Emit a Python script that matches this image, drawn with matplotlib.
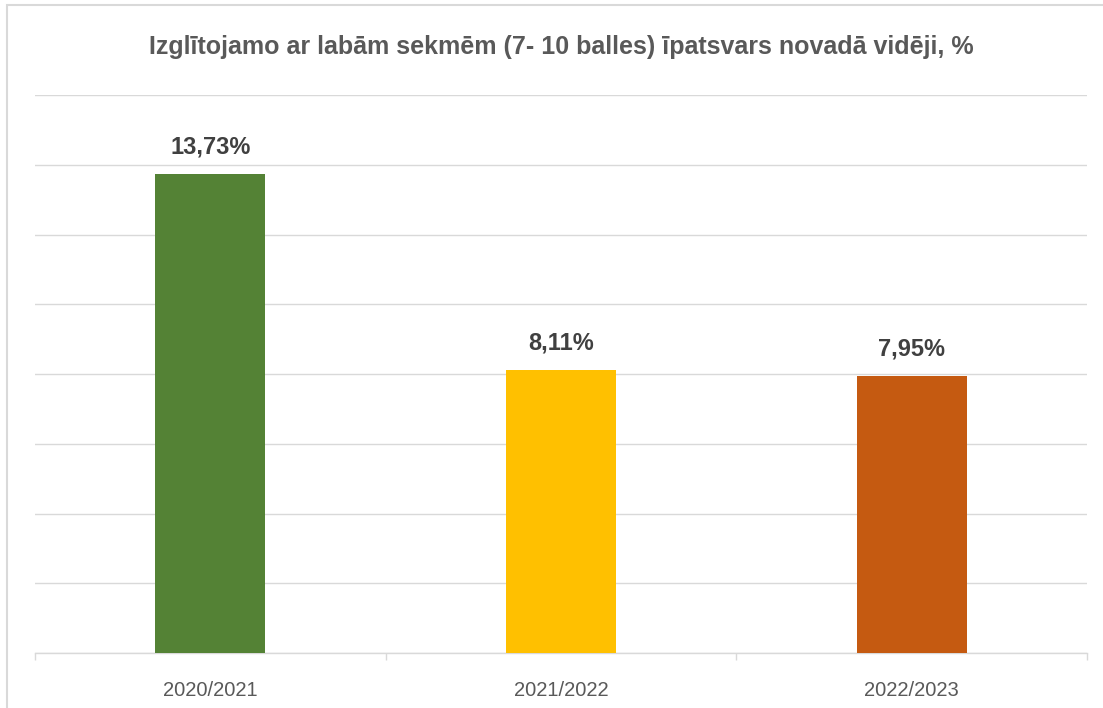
import matplotlib
import numpy as np

matplotlib.use("Agg")
import matplotlib.pyplot as plt
from matplotlib.patches import Rectangle

TITLE = "Izglītojamo ar labām sekmēm (7- 10 balles) īpatsvars novadā vidēji, %"
YEARS = ["2020/2021", "2021/2022", "2022/2023"]
SHARES = [13.73, 8.11, 7.95]
COLORS = ["#548235", "#FFC000", "#C55A11"]

plt.rcParams["font.family"] = ["Liberation Sans", "DejaVu Sans"]

fig = plt.figure(figsize=(11.03, 7.08), dpi=100)
fig.patch.set_facecolor("white")

# faint frame on left/top like the source screenshot
fig.add_artist(Rectangle((7 / 1103, -0.1), 1.2, 1.1 - 5 / 708, transform=fig.transFigure,
                         fill=False, edgecolor="#D9D9D9", linewidth=1.5))

ax = fig.add_axes([35 / 1103, 1 - 653 / 708, (1087 - 35) / 1103, (653 - 95) / 708])
x = np.arange(len(YEARS))
bars = ax.bar(x, SHARES, width=0.314, color=COLORS, zorder=3)

ax.set_xlim(-0.5, len(YEARS) - 0.5)
ax.set_ylim(0, 16)
ax.set_yticks(np.arange(0, 17, 2))
ax.yaxis.grid(True, color="#D9D9D9", linewidth=1.0, zorder=0)
ax.tick_params(axis="y", left=False, labelleft=False)

ax.set_xticks(x)
ax.set_xticklabels(YEARS, fontsize=14.5, color="#595959")
ax.set_xticks(np.arange(-0.5, len(YEARS)), minor=True)
ax.tick_params(axis="x", which="major", length=0, pad=20)
ax.tick_params(axis="x", which="minor", length=5, width=1, color="#D9D9D9")

for side in ("top", "right", "left"):
    ax.spines[side].set_visible(False)
ax.spines["bottom"].set_color("#D9D9D9")
ax.spines["bottom"].set_linewidth(1.0)

for bar, val in zip(bars, SHARES):
    ax.annotate(f"{val:.2f}%".replace(".", ","),
                (bar.get_x() + bar.get_width() / 2, val),
                xytext=(0, 11), textcoords="offset points",
                ha="center", va="bottom", fontsize=17, fontweight="bold",
                color="#404040")

fig.text(561 / 1103, 1 - 47 / 708, TITLE, ha="center", va="center",
         fontsize=18, fontweight="bold", color="#595959")

fig.savefig("out.png", dpi=100)
